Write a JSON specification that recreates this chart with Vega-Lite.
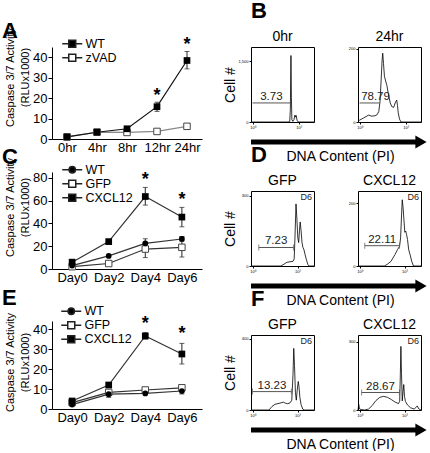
{
  "$schema": "https://vega.github.io/schema/vega-lite/v6.json",
  "background": "white",
  "padding": {"left": 2, "top": 0, "right": 0, "bottom": 0},
  "config": {
    "font": "Liberation Sans",
    "view": {"stroke": null},
    "axis": {"grid": false, "domainColor": "black", "tickColor": "black", "labelColor": "black", "titleColor": "black", "titleFontWeight": "normal", "labelFont": "Liberation Sans", "titleFont": "Liberation Sans"},
    "title": {"font": "Liberation Sans", "color": "black"},
    "legend": {"labelFont": "Liberation Sans", "labelColor": "black", "titleFont": "Liberation Sans", "titleColor": "black"}
  },
  "datasets": {
    "A": [
      {"t": "0hr", "series": "WT", "v": 1},
      {"t": "4hr", "series": "WT", "v": 3.3},
      {"t": "8hr", "series": "WT", "v": 5},
      {"t": "12hr", "series": "WT", "v": 15.8},
      {"t": "24hr", "series": "WT", "v": 38.4},
      {"t": "0hr", "series": "zVAD", "v": 1},
      {"t": "4hr", "series": "zVAD", "v": 3.4},
      {"t": "8hr", "series": "zVAD", "v": 3.2},
      {"t": "12hr", "series": "zVAD", "v": 3.7},
      {"t": "24hr", "series": "zVAD", "v": 6.2}
    ],
    "Aerr": [
      {"t": "12hr", "series": "WT", "lo": 13.5, "hi": 18, "sig": true},
      {"t": "24hr", "series": "WT", "lo": 34.3, "hi": 42.8, "sig": true}
    ],
    "C": [
      {"t": "Day0", "series": "WT", "v": 3},
      {"t": "Day2", "series": "WT", "v": 11.5},
      {"t": "Day4", "series": "WT", "v": 22.5},
      {"t": "Day6", "series": "WT", "v": 26.3},
      {"t": "Day0", "series": "GFP", "v": 2},
      {"t": "Day2", "series": "GFP", "v": 4.8},
      {"t": "Day4", "series": "GFP", "v": 17.5},
      {"t": "Day6", "series": "GFP", "v": 19},
      {"t": "Day0", "series": "CXCL12", "v": 6},
      {"t": "Day2", "series": "CXCL12", "v": 24},
      {"t": "Day4", "series": "CXCL12", "v": 63.5},
      {"t": "Day6", "series": "CXCL12", "v": 45.5}
    ],
    "Cerr": [
      {"t": "Day4", "series": "CXCL12", "lo": 56, "hi": 71.5, "sig": true},
      {"t": "Day6", "series": "CXCL12", "lo": 37, "hi": 54, "sig": true},
      {"t": "Day4", "series": "WT", "lo": 19, "hi": 26.5, "sig": false},
      {"t": "Day6", "series": "WT", "lo": 24.5, "hi": 28, "sig": false},
      {"t": "Day4", "series": "GFP", "lo": 10, "hi": 23, "sig": false},
      {"t": "Day6", "series": "GFP", "lo": 10.5, "hi": 28.5, "sig": false}
    ],
    "E": [
      {"t": "Day0", "series": "WT", "v": 2.2},
      {"t": "Day2", "series": "WT", "v": 7.4},
      {"t": "Day4", "series": "WT", "v": 7.8},
      {"t": "Day6", "series": "WT", "v": 9},
      {"t": "Day0", "series": "GFP", "v": 3.2},
      {"t": "Day2", "series": "GFP", "v": 8.3},
      {"t": "Day4", "series": "GFP", "v": 9.5},
      {"t": "Day6", "series": "GFP", "v": 10.6},
      {"t": "Day0", "series": "CXCL12", "v": 4},
      {"t": "Day2", "series": "CXCL12", "v": 12},
      {"t": "Day4", "series": "CXCL12", "v": 36.5},
      {"t": "Day6", "series": "CXCL12", "v": 27.5}
    ],
    "Eerr": [
      {"t": "Day4", "series": "CXCL12", "lo": 35, "hi": 38.2, "sig": true},
      {"t": "Day6", "series": "CXCL12", "lo": 22.5, "hi": 32.8, "sig": true},
      {"t": "Day2", "series": "WT", "lo": 5.8, "hi": 9, "sig": false},
      {"t": "Day6", "series": "WT", "lo": 7.5, "hi": 10.5, "sig": false},
      {"t": "Day6", "series": "GFP", "lo": 9.8, "hi": 11.5, "sig": false}
    ],
    "hist": [
      {"p": "B0", "x": -0.1, "n": 0}, {"p": "B0", "x": 2.3, "n": 0}, {"p": "B0", "x": 2.42, "n": 10}, {"p": "B0", "x": 2.46, "n": 300}, {"p": "B0", "x": 2.5, "n": 1640}, {"p": "B0", "x": 2.53, "n": 600}, {"p": "B0", "x": 2.56, "n": 60}, {"p": "B0", "x": 2.62, "n": 15}, {"p": "B0", "x": 2.7, "n": 60}, {"p": "B0", "x": 2.76, "n": 170}, {"p": "B0", "x": 2.8, "n": 120}, {"p": "B0", "x": 2.84, "n": 160}, {"p": "B0", "x": 2.9, "n": 40}, {"p": "B0", "x": 2.98, "n": 0}, {"p": "B0", "x": 4, "n": 0},
      {"p": "B24", "x": -0.05, "n": 3}, {"p": "B24", "x": 0, "n": 5}, {"p": "B24", "x": 0.26, "n": 11}, {"p": "B24", "x": 0.6, "n": 19}, {"p": "B24", "x": 0.78, "n": 16}, {"p": "B24", "x": 1.0, "n": 17}, {"p": "B24", "x": 1.12, "n": 19}, {"p": "B24", "x": 1.25, "n": 28}, {"p": "B24", "x": 1.33, "n": 55}, {"p": "B24", "x": 1.4, "n": 110}, {"p": "B24", "x": 1.47, "n": 170}, {"p": "B24", "x": 1.51, "n": 188}, {"p": "B24", "x": 1.56, "n": 160}, {"p": "B24", "x": 1.62, "n": 125}, {"p": "B24", "x": 1.7, "n": 112}, {"p": "B24", "x": 1.78, "n": 100}, {"p": "B24", "x": 1.86, "n": 80}, {"p": "B24", "x": 1.93, "n": 66}, {"p": "B24", "x": 2.0, "n": 52}, {"p": "B24", "x": 2.1, "n": 42}, {"p": "B24", "x": 2.22, "n": 40}, {"p": "B24", "x": 2.32, "n": 52}, {"p": "B24", "x": 2.42, "n": 60}, {"p": "B24", "x": 2.47, "n": 45}, {"p": "B24", "x": 2.52, "n": 25}, {"p": "B24", "x": 2.6, "n": 8}, {"p": "B24", "x": 2.7, "n": 0}, {"p": "B24", "x": 4, "n": 0},
      {"p": "DG", "x": -0.1, "n": 0}, {"p": "DG", "x": 1.9, "n": 0}, {"p": "DG", "x": 2.1, "n": 8}, {"p": "DG", "x": 2.3, "n": 16}, {"p": "DG", "x": 2.5, "n": 18}, {"p": "DG", "x": 2.7, "n": 20}, {"p": "DG", "x": 2.78, "n": 30}, {"p": "DG", "x": 2.83, "n": 120}, {"p": "DG", "x": 2.9, "n": 265}, {"p": "DG", "x": 2.96, "n": 200}, {"p": "DG", "x": 3.02, "n": 120}, {"p": "DG", "x": 3.08, "n": 100}, {"p": "DG", "x": 3.13, "n": 150}, {"p": "DG", "x": 3.18, "n": 188}, {"p": "DG", "x": 3.24, "n": 150}, {"p": "DG", "x": 3.3, "n": 100}, {"p": "DG", "x": 3.36, "n": 80}, {"p": "DG", "x": 3.42, "n": 72}, {"p": "DG", "x": 3.5, "n": 50}, {"p": "DG", "x": 3.6, "n": 25}, {"p": "DG", "x": 3.7, "n": 5}, {"p": "DG", "x": 3.78, "n": 0}, {"p": "DG", "x": 4.1, "n": 0},
      {"p": "DC", "x": -0.1, "n": 0}, {"p": "DC", "x": 1.65, "n": 0}, {"p": "DC", "x": 1.84, "n": 5}, {"p": "DC", "x": 2.1, "n": 15}, {"p": "DC", "x": 2.37, "n": 37}, {"p": "DC", "x": 2.54, "n": 53}, {"p": "DC", "x": 2.67, "n": 63}, {"p": "DC", "x": 2.74, "n": 90}, {"p": "DC", "x": 2.8, "n": 160}, {"p": "DC", "x": 2.85, "n": 212}, {"p": "DC", "x": 2.9, "n": 190}, {"p": "DC", "x": 2.96, "n": 150}, {"p": "DC", "x": 3.02, "n": 108}, {"p": "DC", "x": 3.08, "n": 112}, {"p": "DC", "x": 3.14, "n": 100}, {"p": "DC", "x": 3.2, "n": 85}, {"p": "DC", "x": 3.28, "n": 52}, {"p": "DC", "x": 3.38, "n": 35}, {"p": "DC", "x": 3.48, "n": 15}, {"p": "DC", "x": 3.6, "n": 0}, {"p": "DC", "x": 4.1, "n": 0},
      {"p": "FG", "x": -0.1, "n": 0}, {"p": "FG", "x": 1.1, "n": 0}, {"p": "FG", "x": 1.3, "n": 20}, {"p": "FG", "x": 1.5, "n": 32}, {"p": "FG", "x": 1.7, "n": 36}, {"p": "FG", "x": 1.9, "n": 40}, {"p": "FG", "x": 2.05, "n": 44}, {"p": "FG", "x": 2.2, "n": 38}, {"p": "FG", "x": 2.35, "n": 35}, {"p": "FG", "x": 2.5, "n": 40}, {"p": "FG", "x": 2.62, "n": 55}, {"p": "FG", "x": 2.7, "n": 200}, {"p": "FG", "x": 2.75, "n": 345}, {"p": "FG", "x": 2.8, "n": 250}, {"p": "FG", "x": 2.86, "n": 100}, {"p": "FG", "x": 2.92, "n": 55}, {"p": "FG", "x": 2.98, "n": 110}, {"p": "FG", "x": 3.05, "n": 160}, {"p": "FG", "x": 3.1, "n": 130}, {"p": "FG", "x": 3.16, "n": 70}, {"p": "FG", "x": 3.24, "n": 30}, {"p": "FG", "x": 3.35, "n": 5}, {"p": "FG", "x": 3.45, "n": 0}, {"p": "FG", "x": 4.1, "n": 0},
      {"p": "FC", "x": -0.1, "n": 0}, {"p": "FC", "x": -0.05, "n": 25}, {"p": "FC", "x": 0, "n": 5}, {"p": "FC", "x": 0.1, "n": 2}, {"p": "FC", "x": 0.35, "n": 0}, {"p": "FC", "x": 0.6, "n": 4}, {"p": "FC", "x": 0.85, "n": 20}, {"p": "FC", "x": 1.1, "n": 42}, {"p": "FC", "x": 1.36, "n": 56}, {"p": "FC", "x": 1.61, "n": 60}, {"p": "FC", "x": 1.86, "n": 56}, {"p": "FC", "x": 2.12, "n": 46}, {"p": "FC", "x": 2.37, "n": 35}, {"p": "FC", "x": 2.6, "n": 28}, {"p": "FC", "x": 2.68, "n": 38}, {"p": "FC", "x": 2.72, "n": 150}, {"p": "FC", "x": 2.76, "n": 280}, {"p": "FC", "x": 2.8, "n": 160}, {"p": "FC", "x": 2.85, "n": 40}, {"p": "FC", "x": 2.9, "n": 80}, {"p": "FC", "x": 2.95, "n": 112}, {"p": "FC", "x": 3.0, "n": 60}, {"p": "FC", "x": 3.06, "n": 38}, {"p": "FC", "x": 3.2, "n": 22}, {"p": "FC", "x": 3.4, "n": 10}, {"p": "FC", "x": 3.65, "n": 4}, {"p": "FC", "x": 3.85, "n": 18}, {"p": "FC", "x": 3.95, "n": 5}, {"p": "FC", "x": 4.1, "n": 0}
    ],
    "gates": [
      {"p": "B0", "x0": 0.0, "x1": 2.45, "y": 470, "label": "3.73"},
      {"p": "B24", "x0": 0.0, "x1": 1.3, "y": 52, "label": "78.79"},
      {"p": "DG", "x0": 0.42, "x1": 2.73, "y": 79, "label": "7.23"},
      {"p": "DC", "x0": 0.35, "x1": 2.67, "y": 65, "label": "22.11"},
      {"p": "FG", "x0": 0.0, "x1": 2.59, "y": 103, "label": "13.23"},
      {"p": "FC", "x0": 0.14, "x1": 2.66, "y": 77, "label": "28.67"}
    ],
    "arrow": [{"a": 0.0, "b": 0.955}]
  },
  "hconcat": [
    {
      "spacing": 3,
      "resolve": {"scale": {"shape": "independent", "fill": "independent", "x": "independent", "y": "independent"}, "legend": {"shape": "independent", "fill": "independent"}},
      "vconcat": [
        {
          "width": 150, "height": 92,
          "encoding": {
            "x": {"field": "t", "type": "ordinal", "scale": {"type": "point", "domain": ["0hr", "4hr", "8hr", "12hr", "24hr"], "padding": 0.5}, "axis": {"title": null, "labelFontSize": 13, "labelPadding": 2, "ticks": false, "labelAngle": 0}}
          },
          "layer": [
            {"data": {"name": "A"}, "transform": [{"filter": "datum.series == 'zVAD'"}], "mark": {"type": "line", "strokeWidth": 1.2, "color": "#888"},
             "encoding": {
               "y": {"field": "v", "type": "quantitative", "scale": {"domain": [0, 45], "nice": false}, "axis": {"title": ["Caspase 3/7 Activity", "(RLUx1000)"], "titleFontSize": 11, "titleLineHeight": 15, "titleY": 30, "titlePadding": 2, "values": [0, 10, 20, 30, 40], "labelFontSize": 13, "tickSize": 4, "labelPadding": 1}}
             }},
            {"data": {"name": "A"}, "transform": [{"filter": "datum.series == 'WT'"}], "mark": {"type": "line", "strokeWidth": 1.2, "color": "#111"},
             "encoding": {
               "y": {"field": "v", "type": "quantitative", "scale": {"domain": [0, 45], "nice": false}, "axis": {"title": ["Caspase 3/7 Activity", "(RLUx1000)"], "titleFontSize": 11, "titleLineHeight": 15, "titleY": 30, "titlePadding": 2, "values": [0, 10, 20, 30, 40], "labelFontSize": 13, "tickSize": 4, "labelPadding": 1}}
             }},
            {"data": {"name": "Aerr"}, "mark": {"type": "rule", "color": "#222", "strokeWidth": 1},
             "encoding": {"y": {"field": "lo", "type": "quantitative", "scale": {"domain": [0, 45], "nice": false}, "axis": {"title": ["Caspase 3/7 Activity", "(RLUx1000)"], "titleFontSize": 11, "titleLineHeight": 15, "titleY": 30, "titlePadding": 2, "values": [0, 10, 20, 30, 40], "labelFontSize": 13, "tickSize": 4, "labelPadding": 1}}, "y2": {"field": "hi"}}},
            {"data": {"name": "Aerr"}, "mark": {"type": "tick", "color": "#222", "size": 5, "thickness": 1},
             "encoding": {"y": {"field": "hi", "type": "quantitative", "scale": {"domain": [0, 45], "nice": false}, "axis": {"title": ["Caspase 3/7 Activity", "(RLUx1000)"], "titleFontSize": 11, "titleLineHeight": 15, "titleY": 30, "titlePadding": 2, "values": [0, 10, 20, 30, 40], "labelFontSize": 13, "tickSize": 4, "labelPadding": 1}}}},
            {"data": {"name": "Aerr"}, "mark": {"type": "tick", "color": "#222", "size": 5, "thickness": 1},
             "encoding": {"y": {"field": "lo", "type": "quantitative", "scale": {"domain": [0, 45], "nice": false}, "axis": {"title": ["Caspase 3/7 Activity", "(RLUx1000)"], "titleFontSize": 11, "titleLineHeight": 15, "titleY": 30, "titlePadding": 2, "values": [0, 10, 20, 30, 40], "labelFontSize": 13, "tickSize": 4, "labelPadding": 1}}}},
            {"data": {"name": "A"}, "transform": [{"filter": "datum.series == 'zVAD'"}], "mark": {"type": "point", "shape": "square", "size": 42, "fill": "white", "stroke": "#444", "strokeWidth": 1, "opacity": 1},
             "encoding": {"y": {"field": "v", "type": "quantitative", "scale": {"domain": [0, 45], "nice": false}, "axis": {"title": ["Caspase 3/7 Activity", "(RLUx1000)"], "titleFontSize": 11, "titleLineHeight": 15, "titleY": 30, "titlePadding": 2, "values": [0, 10, 20, 30, 40], "labelFontSize": 13, "tickSize": 4, "labelPadding": 1}}}},
            {"data": {"name": "A"}, "transform": [{"filter": "datum.series == 'WT'"}], "mark": {"type": "point", "shape": "square", "size": 45, "filled": true, "color": "black", "opacity": 1},
             "encoding": {"y": {"field": "v", "type": "quantitative", "scale": {"domain": [0, 45], "nice": false}, "axis": {"title": ["Caspase 3/7 Activity", "(RLUx1000)"], "titleFontSize": 11, "titleLineHeight": 15, "titleY": 30, "titlePadding": 2, "values": [0, 10, 20, 30, 40], "labelFontSize": 13, "tickSize": 4, "labelPadding": 1}}}},
            {"data": {"name": "A"}, "transform": [{"filter": "false"}], "mark": {"type": "point", "stroke": "#222", "strokeWidth": 1.1, "opacity": 1},
             "encoding": {
               "shape": {"field": "series", "type": "nominal", "scale": {"domain": ["WT", "zVAD"], "range": ["M-2,0H-0.7M0.7,0H2M-0.7,-0.7H0.7V0.7H-0.7Z", "M-2,0H-0.7M0.7,0H2M-0.7,-0.7H0.7V0.7H-0.7Z"]}, "legend": {"title": "A", "titleFontSize": 22, "titleFontWeight": "bold", "titleOrient": "left", "titleAnchor": "start", "titleBaseline": "alphabetic", "titleAngle": 0, "titleAlign": "left", "titlePadding": 48, "orient": "none", "legendX": -50, "legendY": -9.5, "symbolSize": 100, "labelFontSize": 12.5, "labelOffset": 7, "padding": 0, "rowPadding": 0, "encode": {"symbols": {"update": {"stroke": {"value": "#222"}, "strokeWidth": {"value": 1.1}}}}}},
               "fill": {"field": "series", "type": "nominal", "scale": {"domain": ["WT", "zVAD"], "range": ["black", "white"]}, "legend": {"title": "A", "titleFontSize": 22, "titleFontWeight": "bold", "titleOrient": "left", "titleAnchor": "start", "titleBaseline": "alphabetic", "titleAngle": 0, "titleAlign": "left", "titlePadding": 48, "orient": "none", "legendX": -50, "legendY": -9.5, "symbolSize": 100, "labelFontSize": 12.5, "labelOffset": 7, "padding": 0, "rowPadding": 0, "encode": {"symbols": {"update": {"stroke": {"value": "#222"}, "strokeWidth": {"value": 1.1}}}}}}
             }},
            {"data": {"name": "Aerr"}, "transform": [{"filter": "datum.sig"}], "mark": {"type": "text", "text": "*", "fontSize": 18, "fontWeight": "bold", "baseline": "middle", "dy": -6, "color": "black"},
             "encoding": {"y": {"field": "hi", "type": "quantitative", "scale": {"domain": [0, 45], "nice": false}, "axis": {"title": ["Caspase 3/7 Activity", "(RLUx1000)"], "titleFontSize": 11, "titleLineHeight": 15, "titleY": 30, "titlePadding": 2, "values": [0, 10, 20, 30, 40], "labelFontSize": 13, "tickSize": 4, "labelPadding": 1}}}}
          ]
        },
        {
          "spacing": 21,
          "resolve": {"scale": {"shape": "independent", "fill": "independent", "x": "independent", "y": "independent"}, "legend": {"shape": "independent", "fill": "independent"}},
          "vconcat": [
            {
              "width": 150, "height": 97,
              "encoding": {
                "x": {"field": "t", "type": "ordinal", "scale": {"type": "point", "domain": ["Day0", "Day2", "Day4", "Day6"], "padding": 0.55}, "axis": {"title": null, "labelFontSize": 13, "labelPadding": 2, "ticks": false, "labelAngle": 0}}
              },
              "layer": [
                {"data": {"name": "C"}, "mark": {"type": "line", "strokeWidth": 1.2, "color": "#333"},
                 "encoding": {
                   "y": {"field": "v", "type": "quantitative", "scale": {"domain": [0, 85], "nice": false}, "axis": {"title": ["Caspase 3/7 Activity", "(RLUx1000)"], "titleFontSize": 11, "titleLineHeight": 15, "titleY": 35, "titlePadding": 2, "values": [0, 20, 40, 60, 80], "labelFontSize": 13, "tickSize": 4, "labelPadding": 1}},
                   "detail": {"field": "series", "type": "nominal"}
                 }},
                {"data": {"name": "Cerr"}, "mark": {"type": "rule", "color": "#222", "strokeWidth": 1},
                 "encoding": {"y": {"field": "lo", "type": "quantitative", "scale": {"domain": [0, 85], "nice": false}, "axis": {"title": ["Caspase 3/7 Activity", "(RLUx1000)"], "titleFontSize": 11, "titleLineHeight": 15, "titleY": 35, "titlePadding": 2, "values": [0, 20, 40, 60, 80], "labelFontSize": 13, "tickSize": 4, "labelPadding": 1}}, "y2": {"field": "hi"}}},
                {"data": {"name": "Cerr"}, "mark": {"type": "tick", "color": "#222", "size": 5, "thickness": 1},
                 "encoding": {"y": {"field": "hi", "type": "quantitative", "scale": {"domain": [0, 85], "nice": false}, "axis": {"title": ["Caspase 3/7 Activity", "(RLUx1000)"], "titleFontSize": 11, "titleLineHeight": 15, "titleY": 35, "titlePadding": 2, "values": [0, 20, 40, 60, 80], "labelFontSize": 13, "tickSize": 4, "labelPadding": 1}}}},
                {"data": {"name": "Cerr"}, "mark": {"type": "tick", "color": "#222", "size": 5, "thickness": 1},
                 "encoding": {"y": {"field": "lo", "type": "quantitative", "scale": {"domain": [0, 85], "nice": false}, "axis": {"title": ["Caspase 3/7 Activity", "(RLUx1000)"], "titleFontSize": 11, "titleLineHeight": 15, "titleY": 35, "titlePadding": 2, "values": [0, 20, 40, 60, 80], "labelFontSize": 13, "tickSize": 4, "labelPadding": 1}}}},
                {"data": {"name": "C"}, "transform": [{"filter": "datum.series == 'GFP'"}], "mark": {"type": "point", "shape": "square", "size": 42, "fill": "white", "stroke": "#444", "strokeWidth": 1, "opacity": 1},
                 "encoding": {"y": {"field": "v", "type": "quantitative", "scale": {"domain": [0, 85], "nice": false}, "axis": {"title": ["Caspase 3/7 Activity", "(RLUx1000)"], "titleFontSize": 11, "titleLineHeight": 15, "titleY": 35, "titlePadding": 2, "values": [0, 20, 40, 60, 80], "labelFontSize": 13, "tickSize": 4, "labelPadding": 1}}}},
                {"data": {"name": "C"}, "transform": [{"filter": "datum.series == 'WT'"}], "mark": {"type": "point", "shape": "circle", "size": 33, "filled": true, "color": "black", "opacity": 1},
                 "encoding": {"y": {"field": "v", "type": "quantitative", "scale": {"domain": [0, 85], "nice": false}, "axis": {"title": ["Caspase 3/7 Activity", "(RLUx1000)"], "titleFontSize": 11, "titleLineHeight": 15, "titleY": 35, "titlePadding": 2, "values": [0, 20, 40, 60, 80], "labelFontSize": 13, "tickSize": 4, "labelPadding": 1}}}},
                {"data": {"name": "C"}, "transform": [{"filter": "datum.series == 'CXCL12'"}], "mark": {"type": "point", "shape": "square", "size": 45, "filled": true, "color": "black", "opacity": 1},
                 "encoding": {"y": {"field": "v", "type": "quantitative", "scale": {"domain": [0, 85], "nice": false}, "axis": {"title": ["Caspase 3/7 Activity", "(RLUx1000)"], "titleFontSize": 11, "titleLineHeight": 15, "titleY": 35, "titlePadding": 2, "values": [0, 20, 40, 60, 80], "labelFontSize": 13, "tickSize": 4, "labelPadding": 1}}}},
                {"data": {"name": "C"}, "transform": [{"filter": "false"}], "mark": {"type": "point", "stroke": "#222", "strokeWidth": 1.1, "opacity": 1},
                 "encoding": {
                   "shape": {"field": "series", "type": "nominal", "scale": {"domain": ["WT", "GFP", "CXCL12"], "range": ["M-2,0H-0.64M0.64,0H2M-0.64,0A0.64,0.64,0,1,0,0.64,0A0.64,0.64,0,1,0,-0.64,0Z", "M-2,0H-0.7M0.7,0H2M-0.7,-0.7H0.7V0.7H-0.7Z", "M-2,0H-0.7M0.7,0H2M-0.7,-0.7H0.7V0.7H-0.7Z"]}, "legend": {"title": "C", "titleFontSize": 22, "titleFontWeight": "bold", "titleOrient": "left", "titleAnchor": "start", "titleBaseline": "alphabetic", "titleAngle": 0, "titleAlign": "left", "titlePadding": 48, "orient": "none", "legendX": -50, "legendY": -8.5, "symbolSize": 100, "labelFontSize": 12.5, "labelOffset": 7, "padding": 0, "rowPadding": 0, "encode": {"symbols": {"update": {"stroke": {"value": "#222"}, "strokeWidth": {"value": 1.1}}}}}},
                   "fill": {"field": "series", "type": "nominal", "scale": {"domain": ["WT", "GFP", "CXCL12"], "range": ["black", "white", "black"]}, "legend": {"title": "C", "titleFontSize": 22, "titleFontWeight": "bold", "titleOrient": "left", "titleAnchor": "start", "titleBaseline": "alphabetic", "titleAngle": 0, "titleAlign": "left", "titlePadding": 48, "orient": "none", "legendX": -50, "legendY": -8.5, "symbolSize": 100, "labelFontSize": 12.5, "labelOffset": 7, "padding": 0, "rowPadding": 0, "encode": {"symbols": {"update": {"stroke": {"value": "#222"}, "strokeWidth": {"value": 1.1}}}}}}
                 }},
                {"data": {"name": "Cerr"}, "transform": [{"filter": "datum.sig"}], "mark": {"type": "text", "text": "*", "fontSize": 18, "fontWeight": "bold", "baseline": "middle", "dy": -7, "color": "black"},
                 "encoding": {"y": {"field": "hi", "type": "quantitative", "scale": {"domain": [0, 85], "nice": false}, "axis": {"title": ["Caspase 3/7 Activity", "(RLUx1000)"], "titleFontSize": 11, "titleLineHeight": 15, "titleY": 35, "titlePadding": 2, "values": [0, 20, 40, 60, 80], "labelFontSize": 13, "tickSize": 4, "labelPadding": 1}}}}
              ]
            },
            {
              "width": 150, "height": 88,
              "encoding": {
                "x": {"field": "t", "type": "ordinal", "scale": {"type": "point", "domain": ["Day0", "Day2", "Day4", "Day6"], "padding": 0.55}, "axis": {"title": null, "labelFontSize": 13, "labelPadding": 2, "ticks": false, "labelAngle": 0}}
              },
              "layer": [
                {"data": {"name": "E"}, "mark": {"type": "line", "strokeWidth": 1.2, "color": "#333"},
                 "encoding": {
                   "y": {"field": "v", "type": "quantitative", "scale": {"domain": [0, 44], "nice": false}, "axis": {"title": ["Caspase 3/7 Activity", "(RLUx1000)"], "titleFontSize": 11, "titleLineHeight": 15, "titleY": 41, "titlePadding": 2, "values": [0, 10, 20, 30, 40], "labelFontSize": 13, "tickSize": 4, "labelPadding": 1}},
                   "detail": {"field": "series", "type": "nominal"}
                 }},
                {"data": {"name": "Eerr"}, "mark": {"type": "rule", "color": "#222", "strokeWidth": 1},
                 "encoding": {"y": {"field": "lo", "type": "quantitative", "scale": {"domain": [0, 44], "nice": false}, "axis": {"title": ["Caspase 3/7 Activity", "(RLUx1000)"], "titleFontSize": 11, "titleLineHeight": 15, "titleY": 41, "titlePadding": 2, "values": [0, 10, 20, 30, 40], "labelFontSize": 13, "tickSize": 4, "labelPadding": 1}}, "y2": {"field": "hi"}}},
                {"data": {"name": "Eerr"}, "mark": {"type": "tick", "color": "#222", "size": 5, "thickness": 1},
                 "encoding": {"y": {"field": "hi", "type": "quantitative", "scale": {"domain": [0, 44], "nice": false}, "axis": {"title": ["Caspase 3/7 Activity", "(RLUx1000)"], "titleFontSize": 11, "titleLineHeight": 15, "titleY": 41, "titlePadding": 2, "values": [0, 10, 20, 30, 40], "labelFontSize": 13, "tickSize": 4, "labelPadding": 1}}}},
                {"data": {"name": "Eerr"}, "mark": {"type": "tick", "color": "#222", "size": 5, "thickness": 1},
                 "encoding": {"y": {"field": "lo", "type": "quantitative", "scale": {"domain": [0, 44], "nice": false}, "axis": {"title": ["Caspase 3/7 Activity", "(RLUx1000)"], "titleFontSize": 11, "titleLineHeight": 15, "titleY": 41, "titlePadding": 2, "values": [0, 10, 20, 30, 40], "labelFontSize": 13, "tickSize": 4, "labelPadding": 1}}}},
                {"data": {"name": "E"}, "transform": [{"filter": "datum.series == 'GFP'"}], "mark": {"type": "point", "shape": "square", "size": 42, "fill": "white", "stroke": "#444", "strokeWidth": 1, "opacity": 1},
                 "encoding": {"y": {"field": "v", "type": "quantitative", "scale": {"domain": [0, 44], "nice": false}, "axis": {"title": ["Caspase 3/7 Activity", "(RLUx1000)"], "titleFontSize": 11, "titleLineHeight": 15, "titleY": 41, "titlePadding": 2, "values": [0, 10, 20, 30, 40], "labelFontSize": 13, "tickSize": 4, "labelPadding": 1}}}},
                {"data": {"name": "E"}, "transform": [{"filter": "datum.series == 'WT'"}], "mark": {"type": "point", "shape": "circle", "size": 33, "filled": true, "color": "black", "opacity": 1},
                 "encoding": {"y": {"field": "v", "type": "quantitative", "scale": {"domain": [0, 44], "nice": false}, "axis": {"title": ["Caspase 3/7 Activity", "(RLUx1000)"], "titleFontSize": 11, "titleLineHeight": 15, "titleY": 41, "titlePadding": 2, "values": [0, 10, 20, 30, 40], "labelFontSize": 13, "tickSize": 4, "labelPadding": 1}}}},
                {"data": {"name": "E"}, "transform": [{"filter": "datum.series == 'CXCL12'"}], "mark": {"type": "point", "shape": "square", "size": 45, "filled": true, "color": "black", "opacity": 1},
                 "encoding": {"y": {"field": "v", "type": "quantitative", "scale": {"domain": [0, 44], "nice": false}, "axis": {"title": ["Caspase 3/7 Activity", "(RLUx1000)"], "titleFontSize": 11, "titleLineHeight": 15, "titleY": 41, "titlePadding": 2, "values": [0, 10, 20, 30, 40], "labelFontSize": 13, "tickSize": 4, "labelPadding": 1}}}},
                {"data": {"name": "E"}, "transform": [{"filter": "false"}], "mark": {"type": "point", "stroke": "#222", "strokeWidth": 1.1, "opacity": 1},
                 "encoding": {
                   "shape": {"field": "series", "type": "nominal", "scale": {"domain": ["WT", "GFP", "CXCL12"], "range": ["M-2,0H-0.64M0.64,0H2M-0.64,0A0.64,0.64,0,1,0,0.64,0A0.64,0.64,0,1,0,-0.64,0Z", "M-2,0H-0.7M0.7,0H2M-0.7,-0.7H0.7V0.7H-0.7Z", "M-2,0H-0.7M0.7,0H2M-0.7,-0.7H0.7V0.7H-0.7Z"]}, "legend": {"title": "E", "titleFontSize": 22, "titleFontWeight": "bold", "titleOrient": "left", "titleAnchor": "start", "titleBaseline": "alphabetic", "titleAngle": 0, "titleAlign": "left", "titlePadding": 48, "orient": "none", "legendX": -50, "legendY": -16, "symbolSize": 100, "labelFontSize": 12.5, "labelOffset": 7, "padding": 0, "rowPadding": 0, "encode": {"symbols": {"update": {"stroke": {"value": "#222"}, "strokeWidth": {"value": 1.1}}}}}},
                   "fill": {"field": "series", "type": "nominal", "scale": {"domain": ["WT", "GFP", "CXCL12"], "range": ["black", "white", "black"]}, "legend": {"title": "E", "titleFontSize": 22, "titleFontWeight": "bold", "titleOrient": "left", "titleAnchor": "start", "titleBaseline": "alphabetic", "titleAngle": 0, "titleAlign": "left", "titlePadding": 48, "orient": "none", "legendX": -50, "legendY": -16, "symbolSize": 100, "labelFontSize": 12.5, "labelOffset": 7, "padding": 0, "rowPadding": 0, "encode": {"symbols": {"update": {"stroke": {"value": "#222"}, "strokeWidth": {"value": 1.1}}}}}}
                 }},
                {"data": {"name": "Eerr"}, "transform": [{"filter": "datum.sig"}], "mark": {"type": "text", "text": "*", "fontSize": 18, "fontWeight": "bold", "baseline": "middle", "dy": -9, "color": "black"},
                 "encoding": {"y": {"field": "hi", "type": "quantitative", "scale": {"domain": [0, 44], "nice": false}, "axis": {"title": ["Caspase 3/7 Activity", "(RLUx1000)"], "titleFontSize": 11, "titleLineHeight": 15, "titleY": 41, "titlePadding": 2, "values": [0, 10, 20, 30, 40], "labelFontSize": 13, "tickSize": 4, "labelPadding": 1}}}}
              ]
            }
          ]
        }
      ]
    },
    {
      "spacing": -20,
      "vconcat": [
        {
          "title": {"text": "B", "anchor": "start", "frame": "group", "fontSize": 22, "fontWeight": "bold", "offset": 6},
          "spacing": 5,
          "vconcat": [
            {
              "spacing": 30,
              "hconcat": [
                {
                  "width": 63, "height": 75,
                  "view": {"stroke": "black", "strokeWidth": 1},
                  "title": {"text": "0hr", "fontSize": 14, "fontWeight": "normal", "offset": 3},
                  "layer": [
                    {"data": {"name": "hist"}, "transform": [{"filter": "datum.p == 'B0'"}], "mark": {"type": "line", "color": "black", "strokeWidth": 0.8},
                     "encoding": {
                       "x": {"field": "x", "type": "quantitative", "scale": {"domain": [-0.1, 4], "nice": false, "zero": false}, "axis": {"title": null, "values": [0, 1, 2, 3], "labelFontSize": 4, "tickSize": 2, "labelPadding": 1, "domain": false, "labelExpr": "'10' + ['⁰','¹','²','³','⁴'][datum.value]"}},
                       "y": {"field": "n", "type": "quantitative", "scale": {"domain": [0, 1850], "nice": false}, "axis": {"title": "Cell #", "values": [0, 500, 1000, 1500], "labelFontSize": 4, "tickSize": 2, "labelPadding": 1, "domain": false, "titleFontSize": 14, "titlePadding": 2, "minExtent": 12, "maxExtent": 12}}
                     }},
                    {"data": {"name": "gates"}, "transform": [{"filter": "datum.p == 'B0'"}], "mark": {"type": "rule", "color": "#555", "strokeWidth": 1},
                     "encoding": {"x": {"field": "x0", "type": "quantitative"}, "x2": {"field": "x1"}, "y": {"field": "y", "type": "quantitative"}}},
                    {"data": {"name": "gates"}, "transform": [{"filter": "datum.p == 'B0'"}, {"calculate": "(datum.x0 + datum.x1) / 2", "as": "xm"}], "mark": {"type": "text", "fontSize": 11.5, "baseline": "bottom", "dy": -1, "color": "#222"},
                     "encoding": {"x": {"field": "xm", "type": "quantitative"}, "y": {"field": "y", "type": "quantitative"}, "text": {"field": "label"}}}
                  ]
                },
                {
                  "width": 63, "height": 75,
                  "view": {"stroke": "black", "strokeWidth": 1},
                  "title": {"text": "24hr", "fontSize": 14, "fontWeight": "normal", "offset": 3},
                  "layer": [
                    {"data": {"name": "hist"}, "transform": [{"filter": "datum.p == 'B24'"}], "mark": {"type": "line", "color": "black", "strokeWidth": 0.8},
                     "encoding": {
                       "x": {"field": "x", "type": "quantitative", "scale": {"domain": [-0.1, 4], "nice": false, "zero": false}, "axis": {"title": null, "values": [0, 1, 2, 3], "labelFontSize": 4, "tickSize": 2, "labelPadding": 1, "domain": false, "labelExpr": "'10' + ['⁰','¹','²','³','⁴'][datum.value]"}},
                       "y": {"field": "n", "type": "quantitative", "scale": {"domain": [0, 205], "nice": false}, "axis": {"title": null, "values": [0, 50, 100, 150, 200], "labelFontSize": 4, "tickSize": 2, "labelPadding": 1, "domain": false}}
                     }},
                    {"data": {"name": "gates"}, "transform": [{"filter": "datum.p == 'B24'"}], "mark": {"type": "rule", "color": "#555", "strokeWidth": 1},
                     "encoding": {"x": {"field": "x0", "type": "quantitative"}, "x2": {"field": "x1"}, "y": {"field": "y", "type": "quantitative"}}},
                    {"data": {"name": "gates"}, "transform": [{"filter": "datum.p == 'B24'"}, {"calculate": "(datum.x0 + datum.x1) / 2", "as": "xm"}], "mark": {"type": "text", "fontSize": 11.5, "baseline": "bottom", "dy": -1, "dx": 6, "color": "#222"},
                     "encoding": {"x": {"field": "xm", "type": "quantitative"}, "y": {"field": "y", "type": "quantitative"}, "text": {"field": "label"}}}
                  ]
                }
              ]
            },
            {
              "width": 178, "height": 14,
              "data": {"name": "arrow"},
              "layer": [
                {"mark": {"type": "rule", "strokeWidth": 5, "color": "black"},
                 "encoding": {
                   "x": {"field": "a", "type": "quantitative", "scale": {"domain": [0, 1], "nice": false}, "axis": {"title": "DNA Content (PI)", "titleFontSize": 14, "titlePadding": 0, "domain": false, "ticks": false, "labels": false}},
                   "x2": {"field": "b"},
                   "y": {"datum": 0, "type": "quantitative", "scale": {"domain": [-1, 1]}, "axis": {"title": "I", "titleColor": "transparent", "titleFontSize": 14, "titlePadding": 2, "labels": false, "ticks": false, "domain": false, "minExtent": 12, "maxExtent": 12}}
                 }},
                {"mark": {"type": "point", "shape": "triangle-right", "filled": true, "color": "black", "size": 170, "opacity": 1},
                 "encoding": {"x": {"field": "b", "type": "quantitative"}, "y": {"datum": 0, "type": "quantitative"}}}
              ]
            }
          ]
        },
        {
          "title": {"text": "D", "anchor": "start", "frame": "group", "fontSize": 22, "fontWeight": "bold", "offset": 7},
          "spacing": 5,
          "vconcat": [
            {
              "spacing": 30,
              "hconcat": [
                {
                  "width": 63, "height": 75,
                  "view": {"stroke": "black", "strokeWidth": 1},
                  "title": {"text": "GFP", "fontSize": 14, "fontWeight": "normal", "offset": 3},
                  "layer": [
                    {"data": {"name": "hist"}, "transform": [{"filter": "datum.p == 'DG'"}], "mark": {"type": "line", "color": "black", "strokeWidth": 0.8},
                     "encoding": {
                       "x": {"field": "x", "type": "quantitative", "scale": {"domain": [-0.1, 4.1], "nice": false, "zero": false}, "axis": {"title": null, "values": [0, 1, 2, 3], "labelFontSize": 4, "tickSize": 2, "labelPadding": 1, "domain": false, "labelExpr": "'10' + ['⁰','¹','²','³','⁴'][datum.value]"}},
                       "y": {"field": "n", "type": "quantitative", "scale": {"domain": [0, 320], "nice": false}, "axis": {"title": "Cell #", "values": [0, 100, 200, 300], "labelFontSize": 4, "tickSize": 2, "labelPadding": 1, "domain": false, "titleFontSize": 14, "titlePadding": 2, "minExtent": 12, "maxExtent": 12}}
                     }},
                    {"data": {"name": "gates"}, "transform": [{"filter": "datum.p == 'DG'"}], "mark": {"type": "rule", "color": "#555", "strokeWidth": 1},
                     "encoding": {"x": {"field": "x0", "type": "quantitative"}, "x2": {"field": "x1"}, "y": {"field": "y", "type": "quantitative"}}},
                    {"data": {"name": "gates"}, "transform": [{"filter": "datum.p == 'DG'"}], "mark": {"type": "tick", "orient": "vertical", "size": 6, "thickness": 1, "color": "#555"},
                     "encoding": {"x": {"field": "x0", "type": "quantitative"}, "y": {"field": "y", "type": "quantitative"}}},
                    {"data": {"name": "gates"}, "transform": [{"filter": "datum.p == 'DG'"}], "mark": {"type": "tick", "orient": "vertical", "size": 6, "thickness": 1, "color": "#555"},
                     "encoding": {"x": {"field": "x1", "type": "quantitative"}, "y": {"field": "y", "type": "quantitative"}}},
                    {"data": {"name": "gates"}, "transform": [{"filter": "datum.p == 'DG'"}, {"calculate": "(datum.x0 + datum.x1) / 2", "as": "xm"}], "mark": {"type": "text", "fontSize": 11.5, "baseline": "bottom", "dy": -1, "color": "#222"},
                     "encoding": {"x": {"field": "xm", "type": "quantitative"}, "y": {"field": "y", "type": "quantitative"}, "text": {"field": "label"}}},
                    {"data": {"name": "gates"}, "transform": [{"filter": "datum.p == 'DG'"}], "mark": {"type": "text", "text": "D6", "fontSize": 9, "align": "right", "baseline": "top", "dx": -2, "dy": 2, "color": "#222"},
                     "encoding": {"x": {"datum": 4.1, "type": "quantitative"}, "y": {"datum": 320, "type": "quantitative"}}}
                  ]
                },
                {
                  "width": 63, "height": 75,
                  "view": {"stroke": "black", "strokeWidth": 1},
                  "title": {"text": "CXCL12", "fontSize": 14, "fontWeight": "normal", "offset": 3},
                  "layer": [
                    {"data": {"name": "hist"}, "transform": [{"filter": "datum.p == 'DC'"}], "mark": {"type": "line", "color": "black", "strokeWidth": 0.8},
                     "encoding": {
                       "x": {"field": "x", "type": "quantitative", "scale": {"domain": [-0.1, 4.1], "nice": false, "zero": false}, "axis": {"title": null, "values": [0, 1, 2, 3], "labelFontSize": 4, "tickSize": 2, "labelPadding": 1, "domain": false, "labelExpr": "'10' + ['⁰','¹','²','³','⁴'][datum.value]"}},
                       "y": {"field": "n", "type": "quantitative", "scale": {"domain": [0, 240], "nice": false}, "axis": {"title": null, "values": [0, 50, 100, 150, 200], "labelFontSize": 4, "tickSize": 2, "labelPadding": 1, "domain": false}}
                     }},
                    {"data": {"name": "gates"}, "transform": [{"filter": "datum.p == 'DC'"}], "mark": {"type": "rule", "color": "#555", "strokeWidth": 1},
                     "encoding": {"x": {"field": "x0", "type": "quantitative"}, "x2": {"field": "x1"}, "y": {"field": "y", "type": "quantitative"}}},
                    {"data": {"name": "gates"}, "transform": [{"filter": "datum.p == 'DC'"}], "mark": {"type": "tick", "orient": "vertical", "size": 6, "thickness": 1, "color": "#555"},
                     "encoding": {"x": {"field": "x0", "type": "quantitative"}, "y": {"field": "y", "type": "quantitative"}}},
                    {"data": {"name": "gates"}, "transform": [{"filter": "datum.p == 'DC'"}], "mark": {"type": "tick", "orient": "vertical", "size": 6, "thickness": 1, "color": "#555"},
                     "encoding": {"x": {"field": "x1", "type": "quantitative"}, "y": {"field": "y", "type": "quantitative"}}},
                    {"data": {"name": "gates"}, "transform": [{"filter": "datum.p == 'DC'"}, {"calculate": "(datum.x0 + datum.x1) / 2", "as": "xm"}], "mark": {"type": "text", "fontSize": 11.5, "baseline": "bottom", "dy": -1, "color": "#222"},
                     "encoding": {"x": {"field": "xm", "type": "quantitative"}, "y": {"field": "y", "type": "quantitative"}, "text": {"field": "label"}}},
                    {"data": {"name": "gates"}, "transform": [{"filter": "datum.p == 'DC'"}], "mark": {"type": "text", "text": "D6", "fontSize": 9, "align": "right", "baseline": "top", "dx": -2, "dy": 2, "color": "#222"},
                     "encoding": {"x": {"datum": 4.1, "type": "quantitative"}, "y": {"datum": 240, "type": "quantitative"}}}
                  ]
                }
              ]
            },
            {
              "width": 178, "height": 14,
              "data": {"name": "arrow"},
              "layer": [
                {"mark": {"type": "rule", "strokeWidth": 5, "color": "black"},
                 "encoding": {
                   "x": {"field": "a", "type": "quantitative", "scale": {"domain": [0, 1], "nice": false}, "axis": {"title": "DNA Content (PI)", "titleFontSize": 14, "titlePadding": 0, "domain": false, "ticks": false, "labels": false}},
                   "x2": {"field": "b"},
                   "y": {"datum": 0, "type": "quantitative", "scale": {"domain": [-1, 1]}, "axis": {"title": "I", "titleColor": "transparent", "titleFontSize": 14, "titlePadding": 2, "labels": false, "ticks": false, "domain": false, "minExtent": 12, "maxExtent": 12}}
                 }},
                {"mark": {"type": "point", "shape": "triangle-right", "filled": true, "color": "black", "size": 170, "opacity": 1},
                 "encoding": {"x": {"field": "b", "type": "quantitative"}, "y": {"datum": 0, "type": "quantitative"}}}
              ]
            }
          ]
        },
        {
          "title": {"text": "F", "anchor": "start", "frame": "group", "fontSize": 22, "fontWeight": "bold", "offset": 7},
          "spacing": 5,
          "vconcat": [
            {
              "spacing": 30,
              "hconcat": [
                {
                  "width": 63, "height": 75,
                  "view": {"stroke": "black", "strokeWidth": 1},
                  "title": {"text": "GFP", "fontSize": 14, "fontWeight": "normal", "offset": 3},
                  "layer": [
                    {"data": {"name": "hist"}, "transform": [{"filter": "datum.p == 'FG'"}], "mark": {"type": "line", "color": "black", "strokeWidth": 0.8},
                     "encoding": {
                       "x": {"field": "x", "type": "quantitative", "scale": {"domain": [-0.1, 4.1], "nice": false, "zero": false}, "axis": {"title": null, "values": [0, 1, 2, 3], "labelFontSize": 4, "tickSize": 2, "labelPadding": 1, "domain": false, "labelExpr": "'10' + ['⁰','¹','²','³','⁴'][datum.value]"}},
                       "y": {"field": "n", "type": "quantitative", "scale": {"domain": [0, 420], "nice": false}, "axis": {"title": "Cell #", "values": [0, 100, 200, 300, 400], "labelFontSize": 4, "tickSize": 2, "labelPadding": 1, "domain": false, "titleFontSize": 14, "titlePadding": 2, "minExtent": 12, "maxExtent": 12}}
                     }},
                    {"data": {"name": "gates"}, "transform": [{"filter": "datum.p == 'FG'"}], "mark": {"type": "rule", "color": "#555", "strokeWidth": 1},
                     "encoding": {"x": {"field": "x0", "type": "quantitative"}, "x2": {"field": "x1"}, "y": {"field": "y", "type": "quantitative"}}},
                    {"data": {"name": "gates"}, "transform": [{"filter": "datum.p == 'FG'"}], "mark": {"type": "tick", "orient": "vertical", "size": 6, "thickness": 1, "color": "#555"},
                     "encoding": {"x": {"field": "x0", "type": "quantitative"}, "y": {"field": "y", "type": "quantitative"}}},
                    {"data": {"name": "gates"}, "transform": [{"filter": "datum.p == 'FG'"}], "mark": {"type": "tick", "orient": "vertical", "size": 6, "thickness": 1, "color": "#555"},
                     "encoding": {"x": {"field": "x1", "type": "quantitative"}, "y": {"field": "y", "type": "quantitative"}}},
                    {"data": {"name": "gates"}, "transform": [{"filter": "datum.p == 'FG'"}, {"calculate": "(datum.x0 + datum.x1) / 2", "as": "xm"}], "mark": {"type": "text", "fontSize": 11.5, "baseline": "bottom", "dy": -1, "color": "#222"},
                     "encoding": {"x": {"field": "xm", "type": "quantitative"}, "y": {"field": "y", "type": "quantitative"}, "text": {"field": "label"}}},
                    {"data": {"name": "gates"}, "transform": [{"filter": "datum.p == 'FG'"}], "mark": {"type": "text", "text": "D6", "fontSize": 9, "align": "right", "baseline": "top", "dx": -2, "dy": 2, "color": "#222"},
                     "encoding": {"x": {"datum": 4.1, "type": "quantitative"}, "y": {"datum": 420, "type": "quantitative"}}}
                  ]
                },
                {
                  "width": 63, "height": 75,
                  "view": {"stroke": "black", "strokeWidth": 1},
                  "title": {"text": "CXCL12", "fontSize": 14, "fontWeight": "normal", "offset": 3},
                  "layer": [
                    {"data": {"name": "hist"}, "transform": [{"filter": "datum.p == 'FC'"}], "mark": {"type": "line", "color": "black", "strokeWidth": 0.8},
                     "encoding": {
                       "x": {"field": "x", "type": "quantitative", "scale": {"domain": [-0.1, 4.1], "nice": false, "zero": false}, "axis": {"title": null, "values": [0, 1, 2, 3], "labelFontSize": 4, "tickSize": 2, "labelPadding": 1, "domain": false, "labelExpr": "'10' + ['⁰','¹','²','³','⁴'][datum.value]"}},
                       "y": {"field": "n", "type": "quantitative", "scale": {"domain": [0, 330], "nice": false}, "axis": {"title": null, "values": [0, 100, 200, 300], "labelFontSize": 4, "tickSize": 2, "labelPadding": 1, "domain": false}}
                     }},
                    {"data": {"name": "gates"}, "transform": [{"filter": "datum.p == 'FC'"}], "mark": {"type": "rule", "color": "#555", "strokeWidth": 1},
                     "encoding": {"x": {"field": "x0", "type": "quantitative"}, "x2": {"field": "x1"}, "y": {"field": "y", "type": "quantitative"}}},
                    {"data": {"name": "gates"}, "transform": [{"filter": "datum.p == 'FC'"}], "mark": {"type": "tick", "orient": "vertical", "size": 6, "thickness": 1, "color": "#555"},
                     "encoding": {"x": {"field": "x0", "type": "quantitative"}, "y": {"field": "y", "type": "quantitative"}}},
                    {"data": {"name": "gates"}, "transform": [{"filter": "datum.p == 'FC'"}], "mark": {"type": "tick", "orient": "vertical", "size": 6, "thickness": 1, "color": "#555"},
                     "encoding": {"x": {"field": "x1", "type": "quantitative"}, "y": {"field": "y", "type": "quantitative"}}},
                    {"data": {"name": "gates"}, "transform": [{"filter": "datum.p == 'FC'"}, {"calculate": "(datum.x0 + datum.x1) / 2", "as": "xm"}], "mark": {"type": "text", "fontSize": 11.5, "baseline": "bottom", "dy": -1, "color": "#222"},
                     "encoding": {"x": {"field": "xm", "type": "quantitative"}, "y": {"field": "y", "type": "quantitative"}, "text": {"field": "label"}}},
                    {"data": {"name": "gates"}, "transform": [{"filter": "datum.p == 'FC'"}], "mark": {"type": "text", "text": "D6", "fontSize": 9, "align": "right", "baseline": "top", "dx": -2, "dy": 2, "color": "#222"},
                     "encoding": {"x": {"datum": 4.1, "type": "quantitative"}, "y": {"datum": 330, "type": "quantitative"}}}
                  ]
                }
              ]
            },
            {
              "width": 178, "height": 14,
              "data": {"name": "arrow"},
              "layer": [
                {"mark": {"type": "rule", "strokeWidth": 5, "color": "black"},
                 "encoding": {
                   "x": {"field": "a", "type": "quantitative", "scale": {"domain": [0, 1], "nice": false}, "axis": {"title": "DNA Content (PI)", "titleFontSize": 14, "titlePadding": 0, "domain": false, "ticks": false, "labels": false}},
                   "x2": {"field": "b"},
                   "y": {"datum": 0, "type": "quantitative", "scale": {"domain": [-1, 1]}, "axis": {"title": "I", "titleColor": "transparent", "titleFontSize": 14, "titlePadding": 2, "labels": false, "ticks": false, "domain": false, "minExtent": 12, "maxExtent": 12}}
                 }},
                {"mark": {"type": "point", "shape": "triangle-right", "filled": true, "color": "black", "size": 170, "opacity": 1},
                 "encoding": {"x": {"field": "b", "type": "quantitative"}, "y": {"datum": 0, "type": "quantitative"}}}
              ]
            }
          ]
        }
      ]
    }
  ]
}
